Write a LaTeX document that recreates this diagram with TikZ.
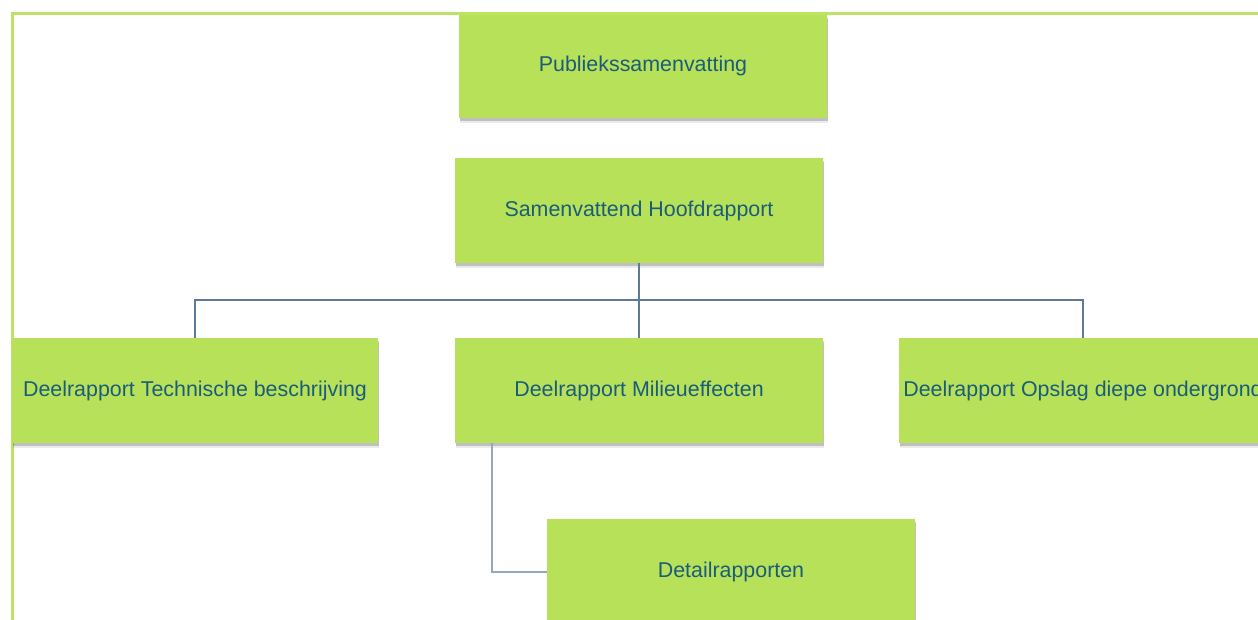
\documentclass[tikz,border=0pt]{standalone}
\usepackage{fontspec}
\setmainfont{Liberation Sans}
\usetikzlibrary{shadows}
\definecolor{boxgreen}{HTML}{B8E15A}
\definecolor{framegreen}{HTML}{BCE464}
\definecolor{txtblue}{HTML}{1B5C7A}
\definecolor{linkblue}{HTML}{5D7A98}
\definecolor{linklight}{HTML}{95A8BB}
\tikzset{
  rbox/.style={rectangle, fill=boxgreen, inner sep=0pt, minimum width=368pt, minimum height=105pt,
    text=txtblue, font=\fontsize{21.4}{25}\selectfont,
    general shadow={shadow xshift=0.5pt, shadow yshift=-5pt, fill=black, opacity=0.08},
    general shadow={shadow xshift=0.5pt, shadow yshift=-3pt, fill=black, opacity=0.18}},
  link/.style={draw=linkblue, line width=2pt},
  linklt/.style={draw=linklight, line width=2pt},
  frameline/.style={draw=framegreen, line width=3pt}
}
\begin{document}
\begin{tikzpicture}[x=1pt,y=-1pt]
\clip (0,0) rectangle (1258,619);
\fill[white] (0,0) rectangle (1258,619);
% frame
\draw[frameline] (12,640) -- (12,13) -- (1270,13);
% nodes
\node[rbox, minimum height=103pt] (pub) at (643,66) {Publiekssamenvatting};
\node[rbox] (hoofd) at (639,210.5) {Samenvattend Hoofdrapport};
\node[rbox, minimum width=366pt] (tech) at (195,390.5) {Deelrapport Technische beschrijving};
\node[rbox] (mil) at (639,390.5) {Deelrapport Milieueffecten};
\node[rbox] (ops) at (1083,390.5) {Deelrapport Opslag diepe ondergrond};
\node[rbox] (det) at (731,571.5) {Detailrapporten};
% connectors
\coordinate (bus) at (639,300);
\draw[link] (hoofd.south) -- (bus);
\draw[link] (tech.north) |- (bus) -| (ops.north);
\draw[link] (bus) -- (mil.north);
\coordinate (dstart) at ([xshift=37pt]mil.south west);
\draw[linklt] (dstart) |- (det.west);
\end{tikzpicture}
\end{document}
